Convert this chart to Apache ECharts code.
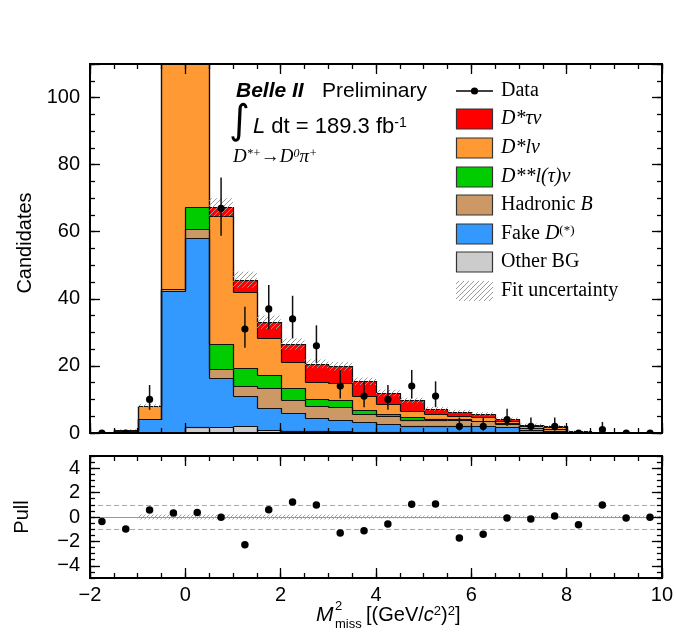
<!DOCTYPE html>
<html><head><meta charset="utf-8">
<script src="https://cdn.jsdelivr.net/npm/echarts@6/dist/echarts.min.js"></script>
<style>html,body{margin:0;padding:0;background:#fff}#c{width:676px;height:632px}</style>
</head><body><div id="c"></div>
<script>
// ---------------- data ----------------
const binCenters = [-1.75,-1.25,-0.75,-0.25,0.25,0.75,1.25,1.75,2.25,2.75,3.25,3.75,4.25,4.75,5.25,5.75,6.25,6.75,7.25,7.75,8.25,8.75,9.25,9.75];
const binHalfWidth = 0.25;
const otherBG   = [0,0,0,0,1.7,1.7,2.0,1.0,0.5,0.5,0.5,0.4,0.3,0.3,0.3,0.2,0.2,0.2,0.1,0.1,0,0,0,0];
const fakeD     = [0.2,0.5,4.2,42.3,56.4,14.7,9.0,6.4,5.5,4.0,3.5,2.9,2.5,1.7,1.9,2.0,1.8,1.5,0.7,0.4,0.2,0.05,0,0];
const hadronicB = [0.1,0.5,0,0.5,2.8,2.8,2.9,6.0,3.9,3.6,3.7,2.4,2.2,2.0,1.6,1.6,1.5,1.0,0.7,0.7,0.1,0.05,0,0];
const dssLnu    = [0,0,0,0.2,6.4,7.4,5.5,4.0,3.5,2.1,2.2,1.1,0.7,0.7,0.5,0.3,0.2,0.2,0.1,0.1,0.05,0,0,0];
const dsLnu     = [0,0,3.7,104,130,38.1,22.5,10.9,7.8,4.9,5.0,4.1,3.0,1.8,1.5,0.9,1.0,0.6,0.4,0.4,0.05,0.05,0,0];
const dsTauNu   = [0,0,0.1,2.2,6.0,2.6,3.8,4.7,5.3,5.5,5.0,4.5,3.2,3.2,1.4,1.4,1.0,0.7,0.5,0.3,0.1,0.05,0,0];
const fitUnc    = [0,0.1,0.6,3,4,2.7,2.4,2.0,1.7,1.3,1.3,1.1,1.0,0.8,0.6,0.5,0.5,0.4,0.3,0.3,0.2,0.1,0,0];
const dataCounts = [0,0,10,154,206,67,31,37,34,26,14,11,10,14,11,2,2,4,2,2,0,1,0,0];
const dataErrLo  = [0,0,3.1,12.4,14.3,8.2,5.6,6.1,5.8,5.1,3.7,3.3,3.1,3.7,3.3,1.3,1.3,1.9,1.3,1.3,0,0.8,0,0];
const dataErrHi  = [0,0,4.3,13.4,15.4,9.2,6.6,7.1,6.9,6.1,4.8,4.4,4.3,4.8,4.4,2.6,2.6,3.2,2.6,2.6,0,2.3,0,0];
const pullValues = [-0.36,-0.99,0.58,0.33,0.36,-0.03,-2.27,0.60,1.23,0.99,-1.32,-1.12,-0.58,1.04,1.07,-1.73,-1.42,-0.08,-0.16,0.08,-0.63,0.99,-0.08,-0.03];
const pullBand   = [0,0,0.2,0.2,0.2,0.2,0.2,0.2,0.2,0.2,0.2,0.15,0.12,0.12,0.12,0.1,0.1,0.1,0.1,0.1,0.1,0.1,0.1,0.1];
const mainYTickLabels = [0,20,40,60,80,100];
const pullYTickLabels = [-4,-2,0,2,4];
const legendLabels = ['Data','{i|D*τν}','{i|D*lν}','{i|D**l(τ)ν}','Hadronic {i|B}','Fake {i|D}{sup|(*)}','Other BG','Fit uncertainty'];

// ---------------- style ----------------
const compColors = ['#cccccc','#3399ff','#cc9966','#00cc00','#ff9933','#ff0000'];
const stack = [otherBG, fakeD, hadronicB, dssLnu, dsLnu, dsTauNu];
const nB = binCenters.length;
const cum = [];
{ let base = new Array(nB).fill(0);
  for (const comp of stack) { base = base.map((b,i)=>b+comp[i]); cum.push(base); } }
const total = cum[cum.length-1];

function hatchCanvas(color, step, lw){
  const c = document.createElement('canvas'); c.width = step; c.height = step;
  const g = c.getContext('2d'); g.strokeStyle = color; g.lineWidth = lw;
  g.beginPath();
  g.moveTo(-1, step+1); g.lineTo(step+1, -1);
  g.moveTo(-1-step, step+1); g.lineTo(1, -1);
  g.moveTo(step-1, step+1); g.lineTo(2*step+1, -1);
  g.stroke();
  return c;
}
const hatchMain = {image: hatchCanvas('#9a9a9a', 5, 1), repeat: 'repeat'};
const hatchPull = {image: hatchCanvas('#a0a0a0', 4, 1), repeat: 'repeat'};

const FONT = 'Liberation Sans, Arial, Helvetica, sans-serif';
const SERIF = 'Liberation Serif, Times New Roman, serif';

const R = Math.round;
function fillRender(params, api){
  const i = params.dataIndex, xc = binCenters[i];
  const children = [];
  let lo = 0;
  for (let k=0;k<stack.length;k++){
    const hi = cum[k][i];
    if (hi > lo){
      const p0 = api.coord([xc-binHalfWidth, hi]);
      const p1 = api.coord([xc+binHalfWidth, lo]);
      children.push({type:'rect', shape:{x:R(p0[0]), y:R(p0[1]), width:R(p1[0])-R(p0[0]), height:R(p1[1])-R(p0[1])}, style:{fill:compColors[k]}});
    }
    lo = hi;
  }
  return {type:'group', children};
}
function outlineRender(params, api){
  const i = params.dataIndex, xc = binCenters[i];
  const children = [];
  for (let k=0;k<stack.length;k++){
    const hi = cum[k][i];
    const hiNext = i < nB-1 ? cum[k][i+1] : 0;
    const pts = [];
    if (i===0) pts.push(api.coord([xc-binHalfWidth, 0]));
    pts.push(api.coord([xc-binHalfWidth, hi]), api.coord([xc+binHalfWidth, hi]), api.coord([xc+binHalfWidth, hiNext]));
    children.push({type:'polyline', shape:{points:pts.map(p=>[R(p[0])+0.5,R(p[1])+0.5])}, style:{stroke:'#111', lineWidth:1.2, fill:null}});
  }
  return {type:'group', children};
}
function hatchRender(params, api){
  const i = params.dataIndex, xc = binCenters[i];
  if (!(fitUnc[i] > 0)) return null;
  const p0 = api.coord([xc-binHalfWidth, total[i]+fitUnc[i]]);
  const p1 = api.coord([xc+binHalfWidth, Math.max(0,total[i]-fitUnc[i])]);
  return {type:'rect', shape:{x:p0[0], y:p0[1], width:p1[0]-p0[0], height:p1[1]-p0[1]}, style:{fill:hatchMain}};
}
function dataRender(params, api){
  const i = params.dataIndex, xc = binCenters[i], n = dataCounts[i];
  const c = api.coord([xc, n]);
  const children = [];
  if (dataErrHi[i] > 0 || dataErrLo[i] > 0){
    const a = api.coord([xc, n+dataErrHi[i]]), b = api.coord([xc, n-dataErrLo[i]]);
    children.push({type:'line', shape:{x1:a[0], y1:a[1], x2:b[0], y2:b[1]}, style:{stroke:'#111', lineWidth:1.5}});
  }
  children.push({type:'circle', shape:{cx:c[0], cy:c[1], r:3.6}, style:{fill:'#000'}});
  return {type:'group', children};
}
function pullBandRender(params, api){
  const i = params.dataIndex, xc = binCenters[i];
  if (!(pullBand[i] > 0)) return null;
  const p0 = api.coord([xc-binHalfWidth, pullBand[i]]);
  const p1 = api.coord([xc+binHalfWidth, -pullBand[i]]);
  return {type:'rect', shape:{x:p0[0], y:p0[1], width:p1[0]-p0[0], height:p1[1]-p0[1]}, style:{fill:hatchPull}};
}

// ---------------- axes ----------------
const AX = {color:'#000', width:2};
function xAx(grid, pos, interval, len, labels){
  return {type:'value', gridIndex:grid, position:pos, min:-2, max:10, interval, z:10,
    axisLine:{show:true, onZero:false, lineStyle:AX},
    axisTick:{show:true, inside:true, length:len, lineStyle:{color:'#000', width:1.3}},
    axisLabel:{show:!!labels, margin:7, fontSize:20, color:'#000', fontFamily:FONT, formatter:v=>String(v).replace('-','\u2212')},
    splitLine:{show:false}};
}
function yAx(grid, pos, min, max, interval, len, tickVals, labelVals){
  const a = {type:'value', gridIndex:grid, position:pos, min, max, interval, z:10,
    axisLine:{show:true, onZero:false, lineStyle:AX},
    axisTick:{show:true, inside:true, length:len, lineStyle:{color:'#000', width:1.3}},
    axisLabel:{show:!!labelVals, margin:10, fontSize:20, color:'#000', fontFamily:FONT, formatter:v=>String(v).replace('-','\u2212')},
    splitLine:{show:false}};
  if (tickVals) a.axisTick.customValues = tickVals;
  if (labelVals) a.axisLabel.customValues = labelVals;
  return a;
}

const legendRowsY = [91,119,148,177,205,234,262,291];
const legendBoxColors = [null,'#ff0000','#ff9933','#00cc00','#cc9966','#3399ff','#cccccc',null];
const graphics = [];
legendRowsY.forEach((y,k)=>{
  if (k===0){
    graphics.push({type:'line', shape:{x1:456,y1:y,x2:493,y2:y}, style:{stroke:'#000', lineWidth:1.3}});
    graphics.push({type:'circle', shape:{cx:474.5, cy:y, r:3.6}, style:{fill:'#000'}});
  } else if (legendBoxColors[k]){
    graphics.push({type:'rect', shape:{x:456.5, y:y-10, width:36, height:20}, style:{fill:legendBoxColors[k], stroke:'#333', lineWidth:1.2}});
  } else {
    graphics.push({type:'rect', shape:{x:456, y:y-10, width:37, height:20}, style:{fill:hatchMain}});
  }
  graphics.push({type:'text', x:501, y:y, style:{text:legendLabels[k], fill:'#000', fontSize:20, fontFamily:SERIF, verticalAlign:'middle',
    rich:{i:{fontStyle:'italic', fontFamily:SERIF, fontSize:20}, sup:{fontFamily:SERIF, fontSize:13, verticalAlign:'top', lineHeight:13}}}});
});
// labels
graphics.push({type:'text', x:236, y:91, style:{text:'Belle II', fill:'#000', fontSize:21, fontWeight:'bold', fontStyle:'italic', fontFamily:FONT, verticalAlign:'middle'}});
graphics.push({type:'text', x:322, y:91, style:{text:'Preliminary', fill:'#000', fontSize:21, fontFamily:FONT, verticalAlign:'middle'}});
graphics.push({type:'text', x:229, y:123, style:{text:'\u222B', fill:'#000', fontSize:40, fontFamily:'DejaVu Sans', verticalAlign:'middle'}});
graphics.push({type:'text', x:253, y:127, style:{text:'{i|L} dt = 189.3 fb{sup|-1}', fill:'#000', fontSize:22, fontFamily:FONT, verticalAlign:'middle',
  rich:{i:{fontStyle:'italic', fontSize:22, fontFamily:FONT}, sup:{fontSize:14, fontFamily:FONT, verticalAlign:'top', lineHeight:12}}}});
graphics.push({type:'text', x:233, y:157, style:{text:'{i|D}{s|*+}{i|\u2192D}{s|0}{i|\u03C0}{s|+}', fill:'#000', fontSize:18, fontFamily:SERIF, verticalAlign:'middle',
  rich:{i:{fontStyle:'italic', fontSize:19, fontFamily:SERIF}, s:{fontStyle:'italic', fontSize:12, fontFamily:SERIF, verticalAlign:'top', lineHeight:10}}}});
graphics.push({type:'text', x:25, y:243, rotation:Math.PI/2, style:{text:'Candidates', fill:'#000', fontSize:20, fontFamily:FONT, align:'center', verticalAlign:'middle'}});
graphics.push({type:'text', x:22, y:517, rotation:Math.PI/2, style:{text:'Pull', fill:'#000', fontSize:20, fontFamily:FONT, align:'center', verticalAlign:'middle'}});
// x-axis title
graphics.push({type:'text', x:316, y:615, style:{text:'M', fill:'#000', fontSize:21, fontStyle:'italic', fontFamily:FONT, verticalAlign:'middle'}});
graphics.push({type:'text', x:335, y:606, style:{text:'2', fill:'#000', fontSize:13, fontFamily:FONT, verticalAlign:'middle'}});
graphics.push({type:'text', x:335, y:624, style:{text:'miss', fill:'#000', fontSize:13, fontFamily:FONT, verticalAlign:'middle'}});
graphics.push({type:'text', x:366, y:615, style:{text:'[(GeV/{i|c}{sup|2}){sup|2}]', fill:'#000', fontSize:20, fontFamily:FONT, verticalAlign:'middle',
  rich:{i:{fontStyle:'italic', fontSize:20, fontFamily:FONT}, sup:{fontSize:13, fontFamily:FONT, verticalAlign:'top', lineHeight:12}}}});

const seriesData = binCenters.map((x,i)=>[x, total[i]]);
const option = {
  animation:false,
  backgroundColor:'#fff',
  grid:[{left:90, top:64, width:572, height:369},{left:90, top:456, width:572, height:122}],
  xAxis:[
    xAx(0,'bottom',2,10,false), xAx(0,'bottom',0.5,5,false), xAx(0,'top',2,10,false), xAx(0,'top',0.5,5,false),
    xAx(1,'bottom',2,10,true), xAx(1,'bottom',0.5,5,false), xAx(1,'top',2,10,false), xAx(1,'top',0.5,5,false)
  ],
  yAxis:[
    yAx(0,'left',0,110,20,10,null,mainYTickLabels), yAx(0,'left',0,110,5,5,null,null),
    yAx(0,'right',0,110,20,10,null,null), yAx(0,'right',0,110,5,5,null,null),
    yAx(1,'left',-5,5,1,10,pullYTickLabels,pullYTickLabels), yAx(1,'left',-5,5,0.5,5,null,null),
    yAx(1,'right',-5,5,1,10,pullYTickLabels,null), yAx(1,'right',-5,5,0.5,5,null,null)
  ],
  graphic:{elements:graphics},
  series:[
    {type:'custom', xAxisIndex:0, yAxisIndex:0, clip:true, z:2, renderItem:fillRender, data:seriesData, encode:{x:0,y:1}, silent:true},
    {type:'custom', xAxisIndex:0, yAxisIndex:0, clip:true, z:3, renderItem:outlineRender, data:seriesData, encode:{x:0,y:1}, silent:true},
    {type:'custom', xAxisIndex:0, yAxisIndex:0, clip:true, z:4, renderItem:hatchRender, data:seriesData, encode:{x:0,y:1}, silent:true},
    {type:'custom', xAxisIndex:0, yAxisIndex:0, clip:true, z:5, renderItem:dataRender, data:binCenters.map((x,i)=>[x,dataCounts[i]]), encode:{x:0,y:1}, silent:true},
    {type:'custom', xAxisIndex:4, yAxisIndex:4, clip:true, z:2, renderItem:pullBandRender, data:binCenters.map((x,i)=>[x,0]), encode:{x:0,y:1}, silent:true},
    {type:'scatter', xAxisIndex:4, yAxisIndex:4, z:5, symbol:'circle', symbolSize:7.5, itemStyle:{color:'#000', opacity:1}, silent:true,
      data:binCenters.map((x,i)=>[x,pullValues[i]]),
      markLine:{silent:true, symbol:'none', label:{show:false}, animation:false,
        data:[{yAxis:0, lineStyle:{color:'#999', type:'solid', width:1}},
              {yAxis:1, lineStyle:{color:'#aaa', type:[5,3], width:1}},
              {yAxis:-1, lineStyle:{color:'#aaa', type:[5,3], width:1}}]}}
  ]
};
const chart = echarts.init(document.getElementById('c'), null, {renderer:'canvas'});
chart.setOption(option);
</script></body></html>
